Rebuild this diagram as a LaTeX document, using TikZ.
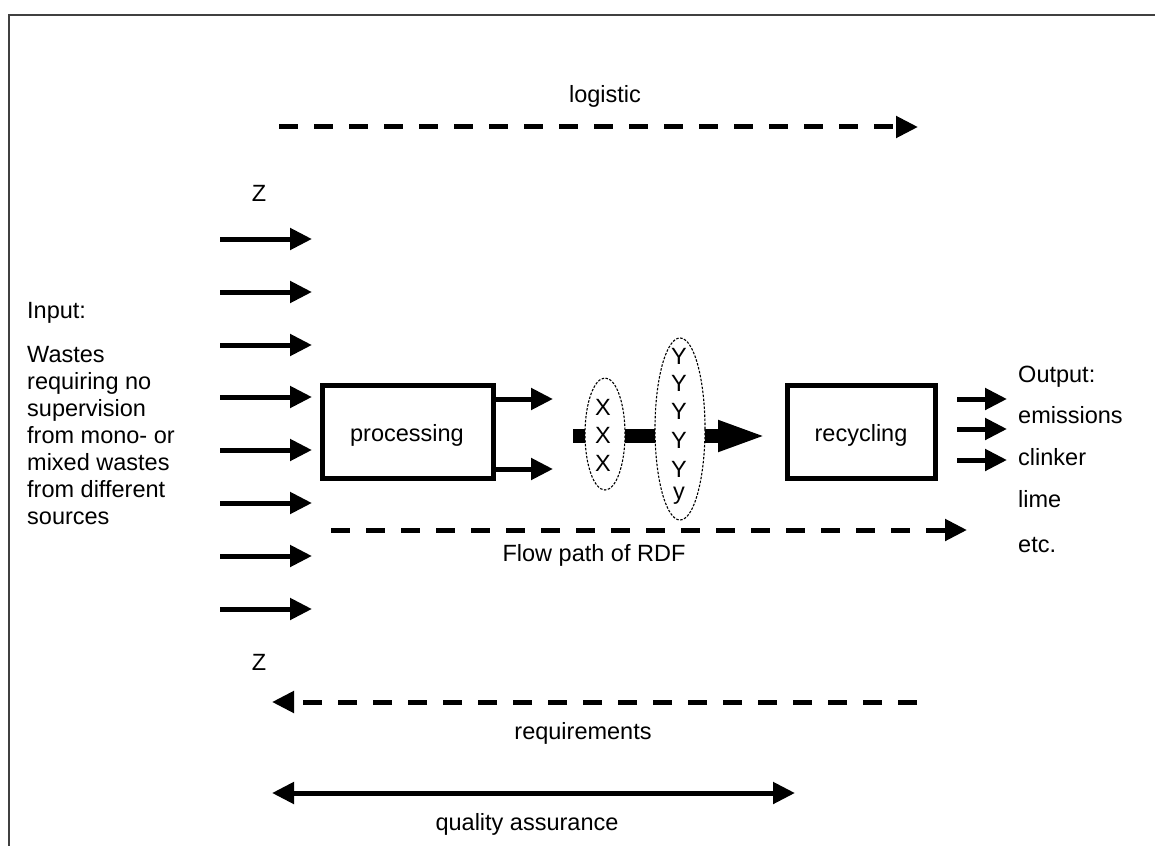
\documentclass[tikz,border=0pt]{standalone}
\usepackage{fontspec}
\setmainfont{Liberation Sans}
\usetikzlibrary{arrows.meta,shapes.geometric}
\begin{document}
\begin{tikzpicture}[x=1pt,y=-1pt,
  lbl/.style={font=\fontsize{23.5}{27}\selectfont, inner sep=0pt, anchor=base},
  lblw/.style={lbl, anchor=base west},
  frameline/.style={draw=black!75, line width=2pt},
  flow/.style={line width=5pt, -{Triangle[length=22pt,width=21pt]}},
  dashflow/.style={flow, dash pattern=on 19pt off 16pt},
  twoway/.style={line width=5pt, {Triangle[length=22pt,width=21pt]}-{Triangle[length=22pt,width=21pt]}},
  stagebox/.style={draw, line width=5pt, inner sep=0pt},
  ring/.style={ellipse, draw, line width=1.1pt, dash pattern=on 2.5pt off 1.5pt, fill=white, inner sep=0pt},
  rdfbar/.style={line width=14pt, -{Triangle[length=49pt,width=28pt]}}
]
\useasboundingbox (0,0) rectangle (1155,845);

% outer frame (top and left edges)
\coordinate (fbl) at (9,846);
\coordinate (ftl) at (9,15);
\coordinate (ftr) at (1156,15);
\draw[frameline] (fbl) -- (ftl) -- (ftr);

% logistic
\node[lbl] (logistic) at (605,103) {logistic};
\coordinate (logA) at (279,127);
\coordinate (logB) at (918,127);
\draw[dashflow] (logA) -- (logB);

% input side
\node[lbl] (z1) at (259,201) {Z};
\node[lbl] (z2) at (259,670) {Z};
\node[lblw] (input) at (27,318) {Input:};
\foreach \t [count=\i] in {Wastes, requiring no, supervision, from mono- or, mixed wastes, from different, sources}
  \node[lblw] (in\i) at (27,{362+27*(\i-1)}) {\t};
\foreach \y [count=\i] in {239,292,345,397,450,503,556,609}{
  \coordinate (inS\i) at (220,\y);
  \coordinate (inE\i) at (312,\y);
  \draw[flow] (inS\i) -- (inE\i);
}

% stages
\node[stagebox, minimum width=171pt, minimum height=93pt] (proc) at (407.5,431.5) {};
\node[stagebox, minimum width=148pt, minimum height=93pt] (rec) at (861.5,431.5) {};
\node[lbl] (proclabel) at (407,441) {processing};
\node[lbl] (reclabel) at (861,441) {recycling};

\coordinate (pa1) at (553,399);
\coordinate (pa2) at (553,469);
\draw[flow] (proc.east |- pa1) -- (pa1);
\draw[flow] (proc.east |- pa2) -- (pa2);

% RDF stream through the fractions
\coordinate (barS) at (573,436);
\coordinate (barE) at (767,436);
\draw[rdfbar] (barS) -- (barE);
\node[ring, minimum width=40pt, minimum height=112pt] (xs) at (605,434) {};
\node[ring, minimum width=50pt, minimum height=182pt] (ys) at (680,429) {};
\foreach \y [count=\i] in {407,435,463}
  \node[lbl, anchor=center] (x\i) at (603,\y) {X};
\foreach \t/\y [count=\i] in {Y/356,Y/383,Y/411,Y/440,Y/469,y/496}
  \node[lbl, anchor=center] (y\i) at (679,\y) {\t};

% output side
\foreach \y [count=\i] in {399,429,460}{
  \coordinate (oS\i) at (957,\y);
  \coordinate (oE\i) at (1007,\y);
  \draw[flow] (oS\i) -- (oE\i);
}
\node[lblw] (out0) at (1018,382) {Output:};
\node[lblw] (out1) at (1018,423) {emissions};
\node[lblw] (out2) at (1018,465) {clinker};
\node[lblw] (out3) at (1018,507) {lime};
\node[lblw] (out4) at (1018,552) {etc.};

% flow path
\coordinate (fpA) at (331,530);
\coordinate (fpB) at (967,530);
\draw[dashflow] (fpA) -- (fpB);
\node[lbl] (fplabel) at (594,561) {Flow path of RDF};

% requirements
\coordinate (rqA) at (917,702);
\coordinate (rqB) at (272,702);
\draw[dashflow] (rqA) -- (rqB);
\node[lbl] (rqlabel) at (583,739) {requirements};

% quality assurance
\coordinate (qaA) at (272,793);
\coordinate (qaB) at (795,793);
\draw[twoway] (qaA) -- (qaB);
\node[lbl] (qalabel) at (527,830) {quality assurance};
\end{tikzpicture}
\end{document}
